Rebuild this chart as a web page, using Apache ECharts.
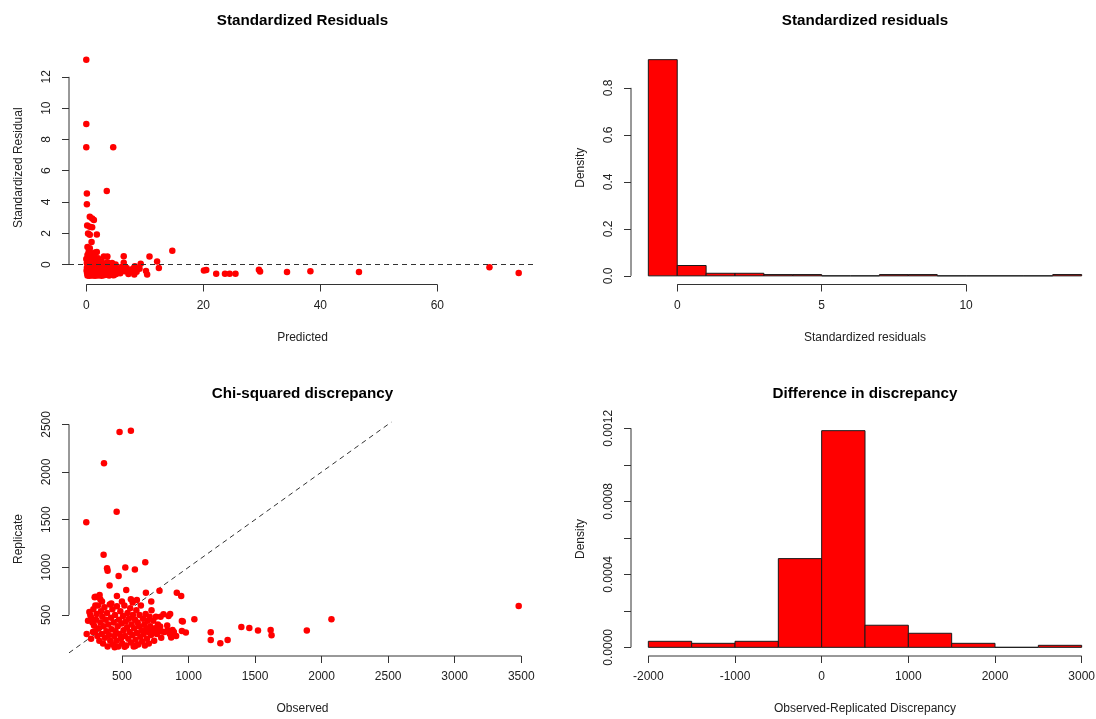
<!DOCTYPE html>
<html>
<head>
<meta charset="utf-8">
<script src="https://cdn.jsdelivr.net/npm/echarts@6/dist/echarts.min.js"></script>
<style>
html,body{margin:0;padding:0;background:#fff;}
#chart{width:1096px;height:719px;}
</style>
</head>
<body>
<div id="chart"></div>
<script>
// ---------- DATA ----------
// Panel 1: Standardized residuals vs predicted  [predicted, standardized residual]
const residPoints = [
 [0.0,13.1],[0.0,8.98],[0.0,7.5],[4.6,7.5],[0.1,4.54],[3.5,4.7],[0.1,3.86],[0.6,3.05],[1.0,2.94],[1.3,2.85],
 [0.15,2.5],[0.6,2.42],[1.0,2.38],[0.3,1.98],[0.6,1.9],[1.8,1.92],[0.9,1.45],[0.2,1.12],[0.6,1.05],[0.4,0.8],
 [0.9,0.72],[1.5,0.78],[1.8,0.8],[0.2,0.62],[3.0,0.52],[3.6,0.52],[6.4,0.53],[10.8,0.52],[14.7,0.88],[12.1,0.2],
 [12.4,-0.22],[6.4,0.12],[9.3,0.06],[9.1,-0.26],[8.3,-0.1],
 [6.9,-0.22],[6.2,-0.3],[7.5,-0.45],[8.2,-0.18],[8.6,-0.45],[8.2,-0.64],[10.2,-0.41],[10.4,-0.64],[5.5,-0.38],[5.8,-0.55],
 [6.0,-0.15],[7.2,-0.6],[4.8,-0.2],[5.2,-0.5],[4.5,-0.66],[6.6,-0.42],[7.8,-0.3],
 [20.1,-0.38],[20.5,-0.35],[22.2,-0.58],[23.7,-0.58],[24.5,-0.58],[25.5,-0.58],[29.5,-0.33],[29.7,-0.44],
 [34.3,-0.47],[38.3,-0.42],[46.6,-0.47],[68.9,-0.17],[73.9,-0.54],
 [0.0,0.35],[0.1,0.1],[0.1,-0.2],[0.2,-0.45],[0.2,-0.7],[0.3,0.2],[0.3,-0.05],[0.3,-0.35],[0.4,-0.6],[0.4,0.45],
 [0.5,0.0],[0.5,-0.3],[0.5,-0.72],[0.6,0.3],[0.6,-0.15],[0.7,-0.5],[0.7,0.1],[0.8,-0.4],[0.8,-0.68],[0.9,0.2],
 [0.9,-0.2],[1.0,-0.55],[1.0,0.05],[1.1,-0.7],[1.1,0.38],[1.2,-0.3],[1.2,-0.1],[1.3,-0.6],[1.3,0.15],[1.4,-0.45],
 [1.5,-0.2],[1.5,-0.72],[1.6,0.0],[1.6,-0.55],[1.7,-0.35],[1.8,0.25],[1.8,-0.65],[1.9,-0.15],[2.0,-0.5],[2.0,-0.7],
 [2.1,0.1],[2.2,-0.3],[2.3,-0.6],[2.4,-0.05],[2.5,-0.45],[2.6,-0.72],[2.6,0.2],[2.7,-0.25],[2.8,-0.55],[2.9,-0.1],
 [3.0,-0.68],[3.0,-0.35],[3.1,0.05],[3.2,-0.5],[3.3,-0.2],[3.4,-0.65],[3.5,-0.4],[3.6,0.15],[3.7,-0.55],[3.8,-0.25],
 [3.9,-0.7],[4.0,-0.05],[4.1,-0.45],[4.2,-0.6],[4.3,-0.3],[4.4,0.1],[4.6,-0.5],[4.7,-0.68],[4.9,-0.35],[5.0,0.0],
 [5.1,-0.6],[5.3,-0.25],[0.15,-0.55],[0.35,-0.15],[0.65,-0.45],[0.85,-0.05],[1.05,-0.35],[1.25,-0.5],[1.45,-0.62],[1.75,-0.05],
 [2.15,-0.4],[2.45,-0.6],[2.75,0.0],[3.25,-0.3],[0.05,-0.4],[0.25,0.05],[0.45,-0.55],[0.55,0.15],[0.75,-0.25],[0.95,-0.65],
 [1.15,-0.15],[1.35,-0.05],[1.55,-0.4],[1.95,-0.58],[2.35,-0.2],[2.85,-0.4],[3.45,-0.12],[3.95,-0.5],[4.45,-0.25],[2.0,0.4],
 [1.4,0.5],[0.9,0.55]
];
const residXTicks = [0, 20, 40, 60];
const residYTicks = [0, 2, 4, 6, 8, 10, 12];

// Panel 2: histogram of standardized residuals
const residBreaks  = [-1,0,1,2,3,4,5,6,7,8,9,10,11,12,13,14];
const residDensity = [0.92,0.044,0.011,0.011,0.0055,0.0055,0,0,0.0055,0.0055,0,0,0,0,0.0055];
const residHistXTicks = [0, 5, 10];
const residHistYTicks = [0, 0.2, 0.4, 0.6, 0.8];

// Panel 3: chi-squared discrepancy  [observed, replicate]
const chiPoints = [
 [482,2420],[567,2434],[365,2092],[460,1584],[232,1473],[362,1133],[388,990],[392,965],[525,997],[597,976],
 [675,1053],[475,909],[407,808],[532,763],[680,734],[782,755],[912,734],[945,700],[300,692],[332,710],
 [337,665],[295,686],[462,700],[567,665],[612,658],[720,640],[1044,455],[950,437],[1167,319],[1167,238],
 [1239,203],[1294,238],[1397,374],[1457,364],[1522,336],[1617,343],[1624,287],[1889,336],[2074,455],[3481,595],
 [812,508],[850,490],[862,511],[787,378],[800,325],[842,336],[880,343],[957,430],[950,332],[980,315],
 [870,262],[907,280],
 [255,530],[262,500],[270,470],[278,420],[285,560],[290,390],[298,330],[305,450],[310,510],[315,280],
 [320,600],[325,360],[330,230],[338,420],[342,540],[348,300],[352,480],[358,200],[362,380],[368,580],
 [372,260],[378,450],[383,330],[388,520],[392,170],[398,400],[402,290],[408,610],[412,230],[418,470],
 [422,350],[428,560],[432,190],[438,420],[442,280],[448,500],[452,330],[458,230],[462,590],[468,380],
 [472,170],[478,450],[482,300],[488,540],[492,250],[498,410],[502,200],[508,490],[512,340],[518,600],
 [522,280],[528,430],[532,180],[538,370],[542,520],[548,250],[552,460],[558,320],[562,570],[568,210],
 [572,400],[578,290],[582,500],[588,170],[592,360],[598,450],[602,240],[608,550],[612,310],[618,420],
 [622,190],[628,380],[632,500],[638,270],[642,600],[648,340],[652,220],[658,460],[662,300],[668,400],
 [672,180],[678,510],[682,350],[688,250],[692,440],[698,320],[702,200],[708,480],[712,380],[718,290],
 [722,550],[728,330],[735,440],[742,230],[748,360],[755,480],[762,300],[770,400],[778,340],[790,480],
 [795,260],[820,320],[840,390],[860,300],[890,320],[235,300],[245,440],[268,250],[282,320],[300,600],
 [350,640],[420,620],[500,640],[580,630],[445,160],[520,165],[600,175]
];
const chiXTicks = [500, 1000, 1500, 2000, 2500, 3000, 3500];
const chiYTicks = [500, 1000, 1500, 2000, 2500];

// Panel 4: histogram of difference in discrepancy
const diffBreaks  = [-2000,-1500,-1000,-500,0,500,1000,1500,2000,2500,3000];
const diffDensity = [0.000033,0.000022,0.000033,0.000486,0.001187,0.000121,0.000077,0.000022,0,0.000011];
const diffXTicks = [-2000, -1000, 0, 1000, 2000, 3000];
const diffYTicks = [0, 0.0002, 0.0004, 0.0006, 0.0008, 0.001, 0.0012];
const diffYLabels = [0, 0.0004, 0.0008, 0.0012];

// ---------- HELPERS ----------
function rRange(vals){ // R default 4% axis extension
  const mn = Math.min(...vals), mx = Math.max(...vals), d = (mx - mn) * 0.04;
  return [mn - d, mx + d];
}
const FONT = "'Liberation Sans', Arial, Helvetica, sans-serif";
const INK = '#222';
const AXC = '#333';

const GRIDS = [
  {left: 69,  top: 51,  width: 467, height: 233.5},
  {left: 631, top: 51,  width: 468, height: 233.5},
  {left: 69,  top: 422, width: 467, height: 234},
  {left: 631, top: 422, width: 468, height: 234}
];

function xAxis(gi, range, ticks, labels, name, fmt){
  return {
    type: 'value', gridIndex: gi, min: range[0], max: range[1], position: 'bottom',
    name: name, nameLocation: 'middle', nameGap: 47, nameMoveOverlap: false,
    nameTextStyle: {fontFamily: FONT, fontSize: 12, color: INK},
    axisLine: {show: false, onZero: false}, splitLine: {show: false},
    axisTick: {show: true, length: 7, inside: false, customValues: ticks, lineStyle: {color: AXC}},
    axisLabel: {show: true, margin: 15, customValues: labels, fontFamily: FONT, fontSize: 12, color: INK,
                formatter: fmt || (v => String(v)), hideOverlap: false, showMinLabel: true, showMaxLabel: true}
  };
}
function yAxis(gi, range, ticks, labels, name, fmt){
  return {
    type: 'value', gridIndex: gi, min: range[0], max: range[1], position: 'left',
    name: name, nameLocation: 'middle', nameGap: 44, nameMoveOverlap: false,
    nameTextStyle: {fontFamily: FONT, fontSize: 12, color: INK},
    axisLine: {show: false, onZero: false}, splitLine: {show: false},
    axisTick: {show: true, length: 7, inside: false, customValues: ticks, lineStyle: {color: AXC}},
    axisLabel: {show: true, margin: 16, rotate: 90, customValues: labels, fontFamily: FONT, fontSize: 12, color: INK,
                formatter: fmt || (v => String(v)), hideOverlap: false, showMinLabel: true, showMaxLabel: true}
  };
}
function axisLines(gi, xr, yr, xt, yt){
  const st = {color: AXC, width: 1};
  return [
    {type: 'line', xAxisIndex: gi, yAxisIndex: gi, data: [[xt[0], yr[0]], [xt[xt.length-1], yr[0]]],
     symbol: 'none', clip: false, silent: true, lineStyle: st, z: 5},
    {type: 'line', xAxisIndex: gi, yAxisIndex: gi, data: [[xr[0], yt[0]], [xr[0], yt[yt.length-1]]],
     symbol: 'none', clip: false, silent: true, lineStyle: st, z: 5}
  ];
}
function histData(breaks, dens){
  return dens.map((d, i) => [breaks[i], breaks[i+1], d]);
}
function histItem(params, api){
  const p0 = api.coord([api.value(0), api.value(2)]);
  const p1 = api.coord([api.value(1), 0]);
  return {type: 'rect',
    shape: {x: p0[0], y: p0[1], width: p1[0] - p0[0], height: p1[1] - p0[1]},
    style: {fill: '#FF0000', stroke: '#1a1a1a', lineWidth: 1}};
}

// ---------- RANGES ----------
const r1x = rRange(residPoints.map(p => p[0]));
const r1y = rRange(residPoints.map(p => p[1]));
const r2x = rRange(residBreaks);
const r2y = rRange([0, ...residDensity]);
const r3x = rRange(chiPoints.map(p => p[0]));
const r3y = rRange(chiPoints.map(p => p[1]));
const r4x = rRange(diffBreaks);
const r4y = rRange([0, ...diffDensity]);

const diagLo = Math.max(r3x[0], r3y[0]);
const diagHi = Math.min(r3x[1], r3y[1]);

const titleStyle = {fontFamily: FONT, fontSize: 15.2, fontWeight: 'bold', color: '#000'};
function titleAt(text, g, top){
  return {text: text, left: g.left + g.width / 2, top: top, textAlign: 'center', padding: 0, textStyle: titleStyle};
}

const option = {
  animation: false,
  backgroundColor: '#fff',
  title: [
    titleAt('Standardized Residuals', GRIDS[0], 13),
    titleAt('Standardized residuals', GRIDS[1], 13),
    titleAt('Chi-squared discrepancy', GRIDS[2], 386),
    titleAt('Difference in discrepancy', GRIDS[3], 386)
  ],
  grid: GRIDS.map(g => Object.assign({containLabel: false, outerBoundsMode: 'none'}, g)),
  xAxis: [
    xAxis(0, r1x, residXTicks, residXTicks, 'Predicted'),
    xAxis(1, r2x, residHistXTicks, residHistXTicks, 'Standardized residuals'),
    xAxis(2, r3x, chiXTicks, chiXTicks, 'Observed'),
    xAxis(3, r4x, diffXTicks, diffXTicks, 'Observed-Replicated Discrepancy')
  ],
  yAxis: [
    yAxis(0, r1y, residYTicks, residYTicks, 'Standardized Residual'),
    yAxis(1, r2y, residHistYTicks, residHistYTicks, 'Density', v => v.toFixed(1)),
    yAxis(2, r3y, chiYTicks, chiYTicks, 'Replicate'),
    yAxis(3, r4y, diffYTicks, diffYLabels, 'Density', v => v.toFixed(4))
  ],
  series: [
    {type: 'scatter', xAxisIndex: 0, yAxisIndex: 0, data: residPoints, symbol: 'circle', symbolSize: 6.5,
     itemStyle: {color: '#FF0000', opacity: 1}, z: 3,
     markLine: {silent: true, symbol: ['none', 'none'], label: {show: false},
       lineStyle: {type: [5, 4], color: '#333', width: 1}, data: [{yAxis: 0}]}},
    {type: 'custom', xAxisIndex: 1, yAxisIndex: 1, renderItem: histItem, data: histData(residBreaks, residDensity), clip: false},
    {type: 'line', xAxisIndex: 2, yAxisIndex: 2, data: [[diagLo, diagLo], [diagHi, diagHi]], symbol: 'none',
     lineStyle: {type: [5, 4], color: '#333', width: 1}, silent: true, z: 2},
    {type: 'scatter', xAxisIndex: 2, yAxisIndex: 2, data: chiPoints, symbol: 'circle', symbolSize: 6.5,
     itemStyle: {color: '#FF0000', opacity: 1}, z: 3},
    {type: 'custom', xAxisIndex: 3, yAxisIndex: 3, renderItem: histItem, data: histData(diffBreaks, diffDensity), clip: false},
    ...axisLines(0, r1x, r1y, residXTicks, residYTicks),
    ...axisLines(1, r2x, r2y, residHistXTicks, residHistYTicks),
    ...axisLines(2, r3x, r3y, chiXTicks, chiYTicks),
    ...axisLines(3, r4x, r4y, diffXTicks, diffYTicks)
  ]
};

const chart = echarts.init(document.getElementById('chart'), null, {renderer: 'canvas'});
chart.setOption(option);
</script>
</body>
</html>
